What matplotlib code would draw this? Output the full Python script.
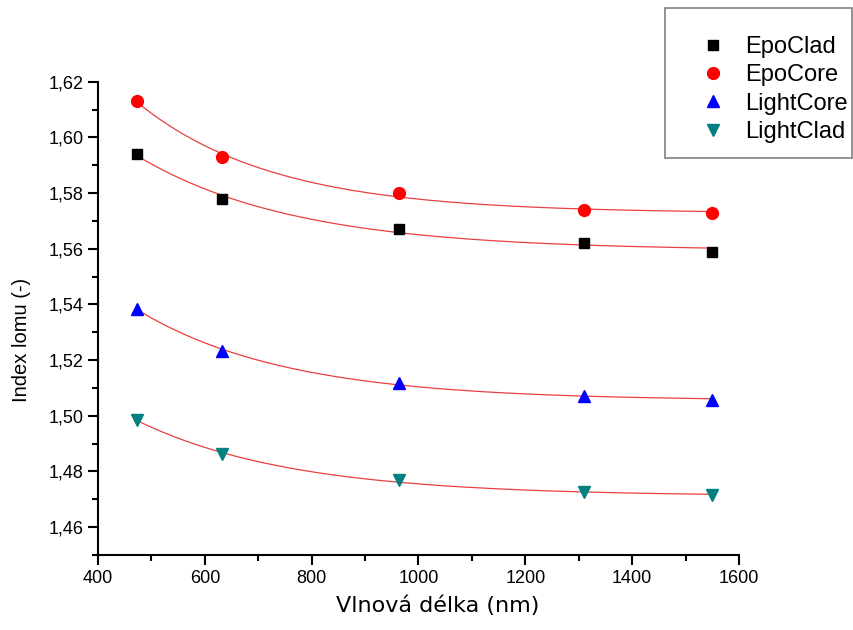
import numpy as np
import matplotlib.pyplot as plt
from matplotlib.ticker import MultipleLocator, FuncFormatter
from matplotlib.patches import Rectangle

# wavelengths (nm)
wavelength = [473, 633, 964, 1310, 1550]

# refractive index
epo_clad = [1.5939, 1.5779, 1.5670, 1.5621, 1.5590]
epo_core = [1.6130, 1.5930, 1.5801, 1.5739, 1.5729]
light_core = [1.5384, 1.5232, 1.5119, 1.5070, 1.5058]
light_clad = [1.4985, 1.4862, 1.4768, 1.4726, 1.4715]

labels = ['EpoClad', 'EpoCore', 'LightCore', 'LightClad']
markers = ['s', 'o', '^', 'v']
colors = ['black', 'red', 'blue', '#008080']
sizes = [7.5, 8.5, 9, 9]


def exp_fit(x, y):
    # y = y0 + A*exp(-x/t), t picked by grid search
    x = np.asarray(x, float)
    y = np.asarray(y, float)
    best = None
    for t in np.linspace(50, 2000, 800):
        M = np.column_stack([np.ones_like(x), np.exp(-x / t)])
        coef, res, _, _ = np.linalg.lstsq(M, y, rcond=None)
        err = np.sum((M @ coef - y) ** 2)
        if best is None or err < best[0]:
            best = (err, coef, t)
    _, coef, t = best
    return lambda xx: coef[0] + coef[1] * np.exp(-xx / t)


fig = plt.figure(figsize=(8.54, 6.3), dpi=100)
ax = fig.add_axes([98 / 854, 1 - 555 / 630, 641 / 854, (555 - 81.7) / 630])

xs = np.linspace(min(wavelength), max(wavelength), 300)
handles = []
for data, lab, m, c, ms in zip([epo_clad, epo_core, light_core, light_clad], labels, markers, colors, sizes):
    f = exp_fit(wavelength, data)
    ax.plot(xs, f(xs), color='#e84040', lw=0.9, zorder=2)
    h, = ax.plot(wavelength, data, ls='none', marker=m, color=c, ms=ms, zorder=3, label=lab)
    handles.append(h)

ax.set_xlim(400, 1600)
ax.set_ylim(1.45, 1.62)
ax.xaxis.set_major_locator(MultipleLocator(200))
ax.xaxis.set_minor_locator(MultipleLocator(100))
ax.yaxis.set_major_locator(MultipleLocator(0.02))
ax.yaxis.set_minor_locator(MultipleLocator(0.01))
ax.yaxis.set_major_formatter(FuncFormatter(lambda v, p: ('%.2f' % v).replace('.', ',')))

for s in ['top', 'right']:
    ax.spines[s].set_visible(False)
for s in ['left', 'bottom']:
    ax.spines[s].set_linewidth(1.5)
ax.tick_params(which='major', direction='out', length=7, width=1.5, labelsize=13)
ax.tick_params(which='minor', direction='out', length=4, width=1.5)
for lbl in ax.get_xticklabels() + ax.get_yticklabels():
    lbl.set_fontfamily('Liberation Sans')

ax.set_xlabel('Vlnová délka (nm)', fontsize=16, family='DejaVu Sans')
ax.xaxis.set_label_coords(0.53, -0.085)
ax.set_ylabel('Index lomu (-)', fontsize=14.5, family='Liberation Sans')
ax.yaxis.set_label_coords(-0.105, 0.454)

# legend frame drawn separately so it can run off the right edge
fig.patches.append(Rectangle((665 / 854, 1 - 158 / 630), 187 / 854, 150 / 630,
                             transform=fig.transFigure, fill=False,
                             edgecolor='#808080', lw=1.2))
fig.legend(handles=handles, loc='upper left', bbox_to_anchor=(701 / 854, 1 - 36 / 630),
           frameon=False, borderpad=0, borderaxespad=0, handlelength=1.0,
           handletextpad=0.85, labelspacing=0.27,
           prop={'family': 'Liberation Sans', 'size': 17})

fig.savefig('out.png', dpi=100)
